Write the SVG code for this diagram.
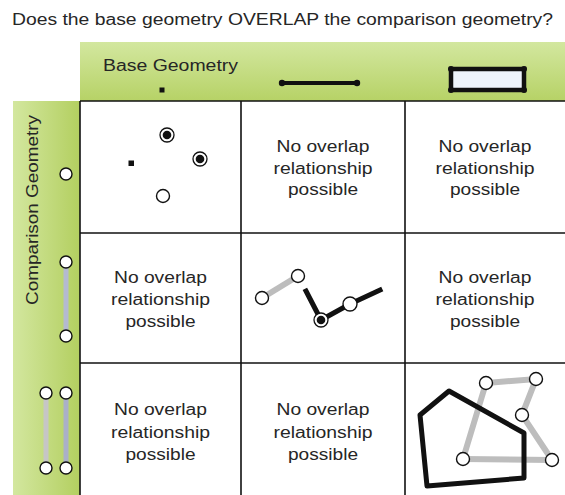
<svg xmlns="http://www.w3.org/2000/svg" width="565" height="495" viewBox="0 0 565 495">
  <defs>
    <linearGradient id="gHead" x1="0" y1="0" x2="0" y2="1">
      <stop offset="0" stop-color="#d3e79f"/>
      <stop offset="1" stop-color="#b6d266"/>
    </linearGradient>
    <linearGradient id="gSide" x1="0" y1="0" x2="1" y2="0">
      <stop offset="0" stop-color="#d3e79f"/>
      <stop offset="1" stop-color="#b3cf60"/>
    </linearGradient>
    <style>
      text { font-family: "Liberation Sans", Arial, sans-serif; font-size: 16px; fill: #262626; }
      .mid { text-anchor: middle; }
      .grid { stroke: #111; stroke-width: 1.6; fill: none; }
      .open { fill: #fff; stroke: #111; stroke-width: 1.4; }
      .ring { fill: #fff; stroke: #111; stroke-width: 1.3; }
      .dot { fill: #111; }
      .base { fill: none; stroke: #111; stroke-width: 5; stroke-linejoin: round; }
      .cmp { fill: none; stroke: #bdbdbd; stroke-width: 6; }
    </style>
  </defs>

  <rect width="565" height="495" fill="#fff"/>

  <text id="title" x="12" y="25" textLength="541" lengthAdjust="spacingAndGlyphs">Does the base geometry OVERLAP the comparison geometry?</text>

  <!-- header band: base geometries -->
  <g id="header">
    <rect x="80" y="42" width="485" height="59" fill="url(#gHead)"/>
    <text x="103" y="71" textLength="135" lengthAdjust="spacingAndGlyphs">Base Geometry</text>
    <rect class="dot" x="159.5" y="87.5" width="5" height="5"/>
    <line x1="282" y1="83" x2="357" y2="83" stroke="#111" stroke-width="4"/>
    <circle class="dot" cx="282" cy="83" r="3.2"/>
    <circle class="dot" cx="357" cy="83" r="3.2"/>
    <rect x="451" y="69" width="73" height="21" fill="#eef4fb" stroke="#111" stroke-width="4.5"/>
    <circle class="dot" cx="451" cy="69" r="3"/>
    <circle class="dot" cx="524" cy="69" r="3"/>
    <circle class="dot" cx="451" cy="90" r="3"/>
    <circle class="dot" cx="524" cy="90" r="3"/>
  </g>

  <!-- side band: comparison geometries -->
  <g id="side">
    <rect x="13" y="101" width="67" height="394" fill="url(#gSide)"/>
    <text class="mid" transform="translate(38,210) rotate(-90)" textLength="190" lengthAdjust="spacingAndGlyphs">Comparison Geometry</text>
    <circle class="open" cx="66" cy="174" r="6"/>
    <line x1="66" y1="262" x2="66" y2="336" stroke="#b4bad0" stroke-width="5"/>
    <circle class="open" cx="66" cy="262" r="6"/>
    <circle class="open" cx="66" cy="336" r="6"/>
    <line x1="46" y1="393" x2="46" y2="468" stroke="#c6c6c6" stroke-width="5"/>
    <line x1="66" y1="393" x2="66" y2="468" stroke="#aab0c8" stroke-width="5"/>
    <circle class="open" cx="46" cy="393" r="6"/>
    <circle class="open" cx="66" cy="393" r="6"/>
    <circle class="open" cx="46" cy="468" r="6"/>
    <circle class="open" cx="66" cy="468" r="6"/>
  </g>

  <!-- table rules -->
  <g id="connectors">
    <line class="grid" x1="80" y1="101" x2="565" y2="101"/>
    <line class="grid" x1="80" y1="233" x2="565" y2="233"/>
    <line class="grid" x1="80" y1="363" x2="565" y2="363"/>
    <line class="grid" x1="80" y1="101" x2="80" y2="495"/>
    <line class="grid" x1="241" y1="101" x2="241" y2="495"/>
    <line class="grid" x1="405" y1="101" x2="405" y2="495"/>
  </g>

  <!-- point / point -->
  <g id="cell-1-1">
    <rect class="dot" x="128.5" y="160.5" width="5.5" height="5.5"/>
    <circle class="ring" cx="167" cy="135" r="7"/>
    <circle class="dot" cx="167" cy="135" r="4.3"/>
    <circle class="ring" cx="200" cy="159" r="7"/>
    <circle class="dot" cx="200" cy="159" r="4.3"/>
    <circle class="open" cx="163" cy="196" r="6.5"/>
  </g>

  <g id="cell-1-2">
    <text class="mid" x="323" y="152" textLength="93" lengthAdjust="spacingAndGlyphs">No overlap</text>
    <text class="mid" x="323" y="174" textLength="99" lengthAdjust="spacingAndGlyphs">relationship</text>
    <text class="mid" x="323" y="195" textLength="70" lengthAdjust="spacingAndGlyphs">possible</text>
  </g>

  <g id="cell-1-3">
    <text class="mid" x="485" y="152" textLength="93" lengthAdjust="spacingAndGlyphs">No overlap</text>
    <text class="mid" x="485" y="174" textLength="99" lengthAdjust="spacingAndGlyphs">relationship</text>
    <text class="mid" x="485" y="195" textLength="70" lengthAdjust="spacingAndGlyphs">possible</text>
  </g>

  <g id="cell-2-1">
    <text class="mid" x="160.5" y="283" textLength="93" lengthAdjust="spacingAndGlyphs">No overlap</text>
    <text class="mid" x="160.5" y="305" textLength="99" lengthAdjust="spacingAndGlyphs">relationship</text>
    <text class="mid" x="160.5" y="327" textLength="70" lengthAdjust="spacingAndGlyphs">possible</text>
  </g>

  <!-- line / line -->
  <g id="cell-2-2">
    <line class="cmp" x1="262" y1="298" x2="298" y2="276"/>
    <polyline class="base" points="306,291 321,320 350,304 380,290" stroke-linecap="square"/>
    <circle class="open" cx="262" cy="298" r="6.5"/>
    <circle class="open" cx="298" cy="276" r="6.5"/>
    <circle class="open" cx="350" cy="304" r="7"/>
    <circle class="ring" cx="321" cy="320" r="7"/>
    <circle class="dot" cx="321" cy="320" r="4.3"/>
  </g>

  <g id="cell-2-3">
    <text class="mid" x="485" y="283" textLength="93" lengthAdjust="spacingAndGlyphs">No overlap</text>
    <text class="mid" x="485" y="305" textLength="99" lengthAdjust="spacingAndGlyphs">relationship</text>
    <text class="mid" x="485" y="327" textLength="70" lengthAdjust="spacingAndGlyphs">possible</text>
  </g>

  <g id="cell-3-1">
    <text class="mid" x="160.5" y="415" textLength="93" lengthAdjust="spacingAndGlyphs">No overlap</text>
    <text class="mid" x="160.5" y="438" textLength="99" lengthAdjust="spacingAndGlyphs">relationship</text>
    <text class="mid" x="160.5" y="460" textLength="70" lengthAdjust="spacingAndGlyphs">possible</text>
  </g>

  <g id="cell-3-2">
    <text class="mid" x="323" y="415" textLength="93" lengthAdjust="spacingAndGlyphs">No overlap</text>
    <text class="mid" x="323" y="438" textLength="99" lengthAdjust="spacingAndGlyphs">relationship</text>
    <text class="mid" x="323" y="460" textLength="70" lengthAdjust="spacingAndGlyphs">possible</text>
  </g>

  <!-- polygon / polygon -->
  <g id="cell-3-3">
    <polyline class="cmp" points="463,459 486,383 536,379 522,415 552,460"/>
    <line class="cmp" x1="463" y1="459" x2="552" y2="460"/>
    <polygon class="base" points="420,415 449,391 524,433 524,478 427,486"/>
    <circle class="open" cx="486" cy="383" r="6.5"/>
    <circle class="open" cx="536" cy="379" r="6.5"/>
    <circle class="open" cx="522" cy="415" r="6.5"/>
    <circle class="open" cx="463" cy="459" r="6.5"/>
    <circle class="open" cx="552" cy="460" r="6.5"/>
  </g>
</svg>
